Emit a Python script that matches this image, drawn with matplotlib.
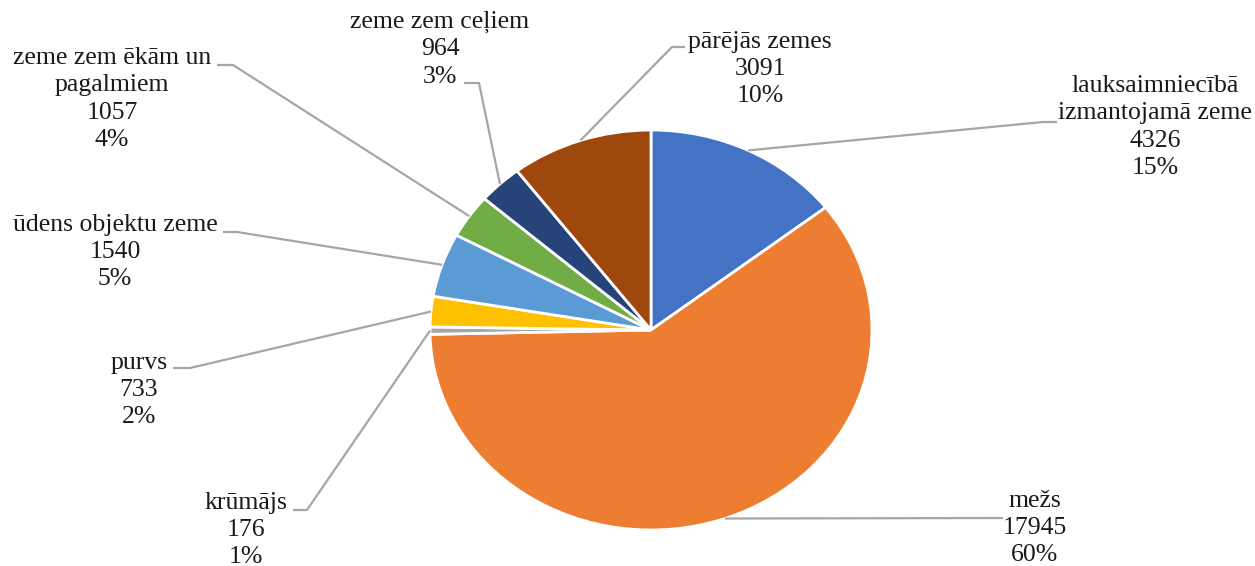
import matplotlib
matplotlib.use("Agg")
import matplotlib.pyplot as plt
import numpy as np

plt.rcParams['font.family'] = ['Liberation Serif', 'DejaVu Serif']

# zemes lietošanas veidi (ha)
kategorijas = ["lauksaimniecībā\nizmantojamā zeme", "mežs", "krūmājs", "purvs",
               "ūdens objektu zeme", "zeme zem ēkām un\npagalmiem",
               "zeme zem ceļiem", "pārējās zemes"]
platibas = [4326, 17945, 176, 733, 1540, 1057, 964, 3091]
krasas = ["#4472C4", "#ED7D31", "#A5A5A5", "#FFC000",
          "#5B9BD5", "#70AD47", "#264478", "#9E480E"]

# izkārtojums pikseļos (1255x566)
W, H = 1255, 566
CX, CY, RX, RY = 651, 330, 221, 200
# etiķetes centrs, līnijas piesaistes punkts, lūzuma x
etiketes = [
    ((1155, 127), (1057, 122), 1043),
    ((1035, 528), (1003, 518), 1003),
    ((246, 530), (293, 510), 307),
    ((139, 390), (173, 368), 190),
    ((115, 252), (223, 232), 237),
    ((112, 99), (217, 65), 233),
    ((440, 49), (464, 83), 479),
    ((760, 69), (685, 47), 672),
]

fig = plt.figure(figsize=(W / 100, H / 100), dpi=100)
fig.patch.set_facecolor("white")

ax = fig.add_axes([(CX - RX) / W, (H - CY - RY) / H, 2 * RX / W, 2 * RY / H])
wedges, _ = ax.pie(platibas, colors=krasas, startangle=90, counterclock=False,
                   radius=1.0, center=(0, 0),
                   wedgeprops=dict(edgecolor="white", linewidth=2.0))
ax.set_aspect("auto")
ax.set_xlim(-1, 1)
ax.set_ylim(-1, 1)
ax.axis("off")

ov = fig.add_axes([0, 0, 1, 1])
ov.set_xlim(0, W)
ov.set_ylim(H, 0)
ov.axis("off")
ov.patch.set_alpha(0)

kopa = sum(platibas)
for w, nos, v, (centrs, piesaiste, lx) in zip(wedges, kategorijas, platibas, etiketes):
    th = np.deg2rad((w.theta1 + w.theta2) / 2)
    ex = CX + RX * np.cos(th)
    ey = CY - RY * np.sin(th)
    ov.plot([piesaiste[0], lx, ex], [piesaiste[1], piesaiste[1], ey],
            color="#A6A6A6", lw=1.6, solid_capstyle="butt")
    teksts = f"{nos}\n{v}\n{round(v / kopa * 100)}%"
    ov.text(centrs[0], centrs[1], teksts, ha="center", va="center",
            multialignment="center", fontsize=18.5, color="#1a1a1a",
            linespacing=1.32)

fig.savefig("out.png", dpi=100, facecolor="white")
